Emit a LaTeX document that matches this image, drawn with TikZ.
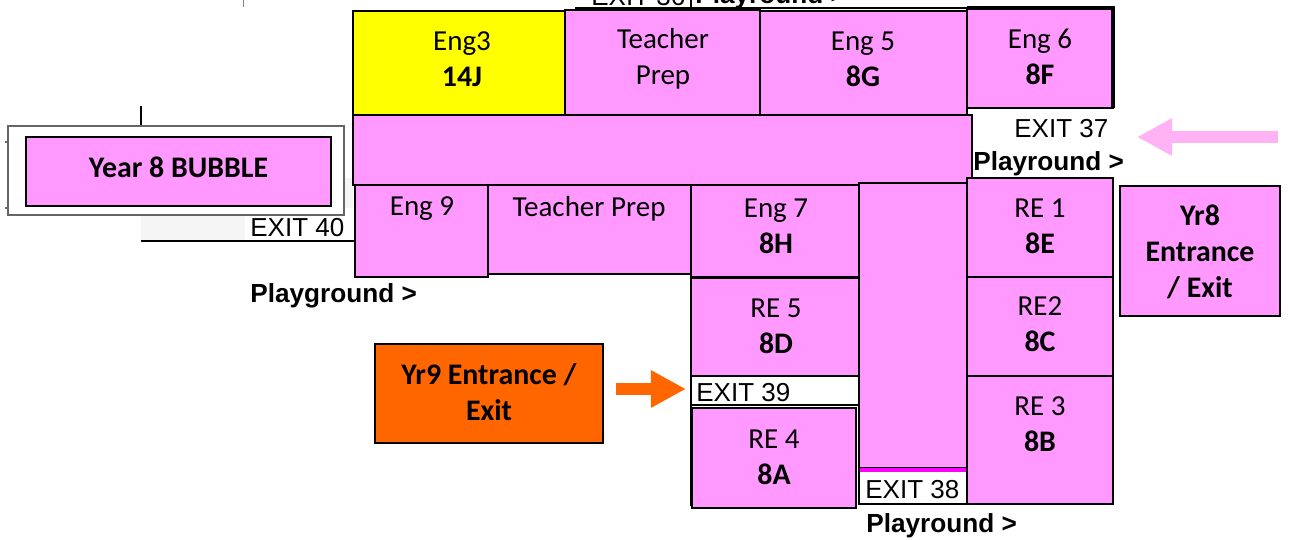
\documentclass[tikz,border=0pt]{standalone}
\usepackage{fontspec}
\setmainfont{Carlito}[BoldFeatures={Scale=1.03}]
\newfontfamily\exitfont{Liberation Sans}
\usetikzlibrary{arrows.meta}
\definecolor{roompink}{HTML}{FF99FF}
\definecolor{arrowpink}{HTML}{FFB3F5}
\definecolor{yrnineorange}{HTML}{FF6600}
\definecolor{engyellow}{HTML}{FFFF00}
\definecolor{barmagenta}{HTML}{FF00FF}
\tikzset{
  room/.style={draw=black, line width=1.3pt, fill=roompink},
  wall/.style={draw=black, line width=1.6pt},
  roomtext/.style={font=\fontsize{16.5}{20.4}\selectfont, align=center, inner sep=0pt},
  exittext/.style={font=\exitfont\fontsize{14.8}{17}\selectfont, inner sep=0pt},
  playtext/.style={font=\exitfont\bfseries\fontsize{14.9}{17}\selectfont, inner sep=0pt}
}
\begin{document}
\begin{tikzpicture}[x=0.02cm, y=-0.02cm]
  \useasboundingbox (0,0) rectangle (1289,540);

  % Outside walls
  \fill[black!4] (141,215) rectangle (245,240);
  \fill[black!4] (344,178) rectangle (353,208);
  \draw[black!50, line width=0.5pt] (243,0) -- (243,7);
  \draw[wall] (141,106) -- (141,126);
  \draw[wall] (141,241) -- (354,241);
  \draw[wall] (575,8) -- (1113,8);
  \draw[black!60, line width=0.7pt] (5,142) -- (8,142);
  \draw[black!60, line width=0.7pt] (5,208) -- (8,208);

  % Top row
  \node[exittext, anchor=west] (exitsix) at (591,-3.5) {EXIT 36};
  \node[playtext, anchor=west] (playsix) at (695,-3.5) {Playround >};
  \draw[wall, line width=1pt] (691,0) -- (691,10);

  \draw[room, fill=engyellow] (353,11) rectangle (565,115);
  \node[roomtext] (engthree) at (462,59.5) {Eng3\\\textbf{14J}};
  \draw[room] (565,10) rectangle (760,115);
  \node[roomtext] (prepone) at (663,59) {Teacher\\Prep};
  \draw[room] (760,11) rectangle (967,115);
  \node[roomtext] (engfive) at (863,59.5) {Eng 5\\\textbf{8G}};
  \draw[room] (967,9) rectangle (1113,108);
  \node[roomtext] (engsix) at (1040,57) {Eng 6\\\textbf{8F}};
  \draw[wall, line width=2.2pt] (967,8) -- (1113,8) -- (1113,108);

  % Corridors
  \draw[room] (353,115) rectangle (972,185);
  \draw[room] (859,183) rectangle (967,468);

  % Middle row
  \draw[room] (355,185) rectangle (488,277);
  \node[roomtext] (engnine) at (422,209) {Eng 9};
  \draw[room] (488,185) rectangle (691,274);
  \node[roomtext] (preptwo) at (589,209) {Teacher Prep};
  \draw[room] (691,185) rectangle (859,277);
  \node[roomtext] (engseven) at (776,226) {Eng 7\\\textbf{8H}};

  % Right column
  \draw[room] (967,178) rectangle (1113,277);
  \node[roomtext] (reone) at (1040,226) {RE 1\\\textbf{8E}};
  \draw[room] (967,277) rectangle (1113,376);
  \node[roomtext] (retwo) at (1040,324) {RE2\\\textbf{8C}};
  \draw[room] (967,376) rectangle (1113,504);
  \node[roomtext] (rethree) at (1040,424) {RE 3\\\textbf{8B}};
  \draw[wall] (967,178) -- (1113,178) -- (1113,504) -- (859,504);

  % Middle column
  \draw[room] (691,278) rectangle (859,376);
  \node[roomtext] (refive) at (776,326) {RE 5\\\textbf{8D}};
  \draw[black, line width=1.3pt, fill=white] (691,376) rectangle (859,405);
  \node[exittext, anchor=west] (exitnine) at (696,393) {EXIT 39};
  \draw[room, line width=1.5pt] (692,408) rectangle (856,508);
  \node[roomtext] (refour) at (774,457) {RE 4\\\textbf{8A}};
  \draw[wall] (691,376) -- (691,506);

  % Exit 38
  \draw[black, line width=1.3pt, fill=white] (859,468) rectangle (967,504);
  \fill[barmagenta] (860,468) rectangle (966,472);
  \node[exittext, anchor=west] (exiteight) at (865,490) {EXIT 38};
  \node[playtext, anchor=west] (playeight) at (866,526) {Playround >};

  % Exit 37 and 40
  \node[exittext, anchor=west] (exitseven) at (1014,129) {EXIT 37};
  \node[playtext, anchor=west] (playseven) at (973,164) {Playround >};
  \node[exittext, anchor=west] (exitforty) at (250,228) {EXIT 40};
  \node[playtext, anchor=west] (playforty) at (250,296) {Playground >};

  % Bubble
  \draw[black!60, line width=0.8pt, fill=white] (8,126) rectangle (344,215);
  \draw[room] (26,137) rectangle (331,206);
  \node[roomtext] (bubble) at (178.5,167) {\textbf{Year 8 BUBBLE}};

  % Entrances
  \draw[room] (1120,186) rectangle (1280,316);
  \node[roomtext] (yreight) at (1200,252) {\textbf{Yr8}\\\textbf{Entrance}\\\textbf{/ Exit}};
  \draw[room, fill=yrnineorange] (375,344) rectangle (603,443);
  \node[roomtext] (yrnine) at (489,392) {\textbf{Yr9 Entrance /}\\\textbf{Exit}};

  % Arrows
  \coordinate (pinkstart) at (1278,137);
  \coordinate (pinkend) at (1137,137);
  \coordinate (orangestart) at (616,389);
  \coordinate (orangeend) at (686,389);
  \draw[arrowpink, line width=6.8pt, -{Triangle[length=20pt, width=20pt]}] (pinkstart) -- (pinkend);
  \draw[yrnineorange, line width=7pt, -{Triangle[length=20pt, width=20pt]}] (orangestart) -- (orangeend);

\end{tikzpicture}
\end{document}
